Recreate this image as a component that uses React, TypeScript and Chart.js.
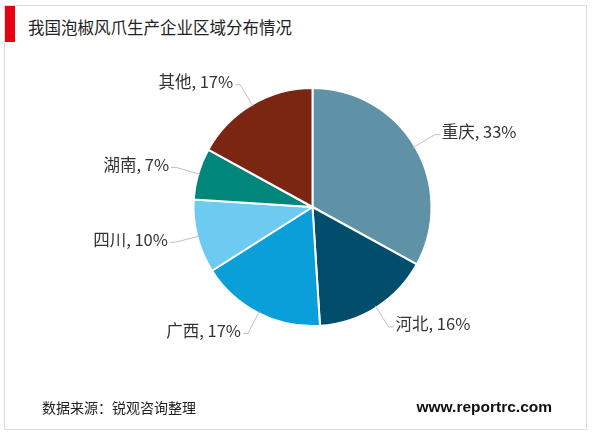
import React, { useEffect, useRef } from "react";
import { Chart, registerables } from "chart.js";

Chart.register(...registerables);

const title = "我国泡椒风爪生产企业区域分布情况";
const source = "数据来源：锐观咨询整理";
const site = "www.reportrc.com";
const regions = ["重庆", "河北", "广西", "四川", "湖南", "其他"];
const shares = [33, 16, 17, 10, 7, 17];
const colors = ["#5f91a7", "#004d6c", "#0a9fd8", "#6dcbf2", "#00867a", "#7a2613"];

const FONT = '"Noto Sans CJK SC", "Noto Sans", sans-serif';

const labelPlugin = {
  id: "leaderLabels",
  afterDatasetsDraw(chart: any) {
    const { ctx } = chart;
    const meta = chart.getDatasetMeta(0);
    ctx.save();
    meta.data.forEach((arc: any, i: number) => {
      const { x, y, startAngle, endAngle, outerRadius } = arc.getProps(
        ["x", "y", "startAngle", "endAngle", "outerRadius"],
        true
      );
      const mid = (startAngle + endAngle) / 2;
      const cx = Math.cos(mid);
      const cy = Math.sin(mid);
      const x0 = x + cx * (outerRadius - 2);
      const y0 = y + cy * (outerRadius - 2);
      const x1 = x + cx * (outerRadius + 23);
      const y1 = y + cy * (outerRadius + 23);
      const right = cx >= 0;
      const x2 = x1 + (right ? 5 : -5);
      ctx.strokeStyle = "#c0c0c0";
      ctx.lineWidth = 1;
      ctx.beginPath();
      ctx.moveTo(x0, y0);
      ctx.lineTo(x1, y1);
      ctx.lineTo(x2, y1);
      ctx.stroke();
      ctx.fillStyle = "#333333";
      ctx.font = `16.5px ${FONT}`;
      ctx.textBaseline = "middle";
      ctx.textAlign = right ? "left" : "right";
      ctx.fillText(`${regions[i]}, ${shares[i]}%`, x2 + (right ? 2 : -2), y1 - 3);
    });
    ctx.restore();
  },
};

export default function App() {
  const ref = useRef<HTMLCanvasElement>(null);
  useEffect(() => {
    const chart = new Chart(ref.current as HTMLCanvasElement, {
      type: "pie",
      data: {
        labels: regions,
        datasets: [
          {
            data: shares,
            backgroundColor: colors,
            borderColor: "#ffffff",
            borderWidth: 2,
          },
        ],
      },
      options: {
        animation: false,
        responsive: false,
        maintainAspectRatio: false,
        layout: { padding: { left: 192, right: 167, top: 87, bottom: 106 } },
        plugins: { legend: { display: false }, tooltip: { enabled: false } },
      },
      plugins: [labelPlugin],
    });
    return () => chart.destroy();
  }, []);

  return (
    <div
      style={{
        position: "absolute",
        left: 0,
        top: 0,
        width: 600,
        height: 433,
        background: "#fff",
        fontFamily: FONT,
        overflow: "hidden",
      }}
    >
      <div
        style={{
          position: "absolute",
          left: 4,
          top: 5,
          width: 583,
          height: 425,
          border: "1px solid #dcdcdc",
          boxSizing: "border-box",
        }}
      />
      <div style={{ position: "absolute", left: 5, top: 6, width: 10, height: 36, background: "#e60012" }} />
      <div
        style={{
          position: "absolute",
          left: 28,
          top: 14,
          fontSize: 16.5,
          lineHeight: "26px",
          color: "#222",
          whiteSpace: "nowrap",
        }}
      >
        {title}
      </div>
      <canvas ref={ref} width={600} height={433} style={{ position: "absolute", left: 0, top: 0 }} />
      <div
        style={{
          position: "absolute",
          left: 42,
          top: 397,
          fontSize: 14,
          lineHeight: "20px",
          color: "#222",
          whiteSpace: "nowrap",
        }}
      >
        {source}
      </div>
      <div
        style={{
          position: "absolute",
          right: 48,
          top: 396,
          fontSize: 15.5,
          lineHeight: "22px",
          fontWeight: "bold",
          fontFamily: '"Liberation Sans", Arial, sans-serif',
          color: "#111",
          whiteSpace: "nowrap",
        }}
      >
        {site}
      </div>
    </div>
  );
}
